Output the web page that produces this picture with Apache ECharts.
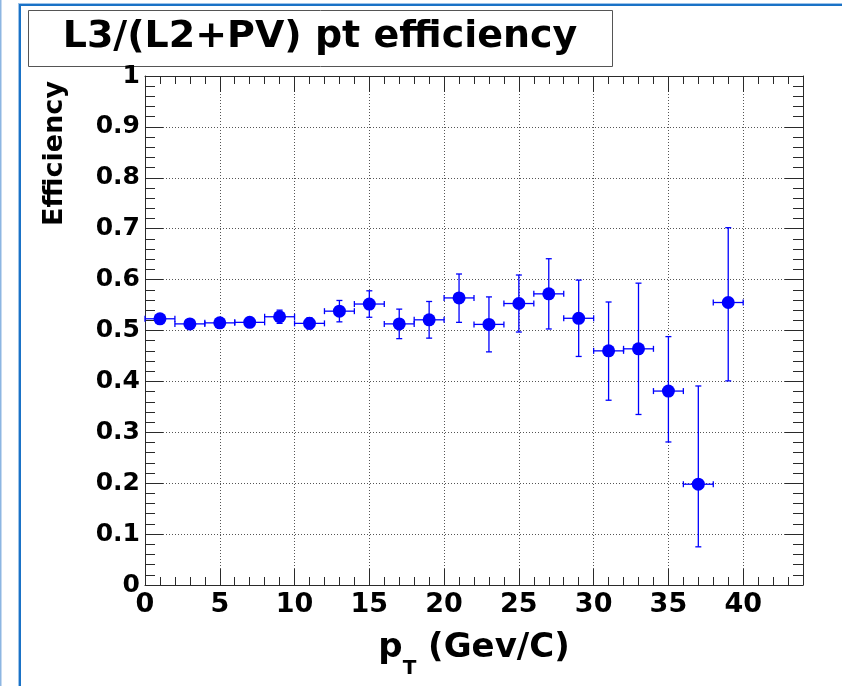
<!DOCTYPE html>
<html>
<head>
<meta charset="utf-8">
<script src="https://cdn.jsdelivr.net/npm/echarts@6/dist/echarts.min.js"></script>
<style>
  html, body { margin: 0; padding: 0; background: #fff; }
  #chart { width: 842px; height: 686px; }
</style>
</head>
<body>
<div id="chart"></div>
<script>
// Efficiency per pT bin (bins of width 2 GeV/c, 0-40)
const binCenters = [1, 3, 5, 7, 9, 11, 13, 15, 17, 19, 21, 23, 25, 27, 29, 31, 33, 35, 37, 39];
const efficiency = [0.523, 0.513, 0.515, 0.516, 0.527, 0.514, 0.538, 0.552, 0.513, 0.521,
                    0.564, 0.512, 0.553, 0.572, 0.524, 0.460, 0.464, 0.381, 0.198, 0.555];
const errDown    = [0.005, 0.005, 0.006, 0.007, 0.013, 0.011, 0.021, 0.026, 0.029, 0.036,
                    0.048, 0.054, 0.056, 0.069, 0.075, 0.097, 0.129, 0.100, 0.123, 0.154];
const errUp      = [0.005, 0.005, 0.006, 0.007, 0.013, 0.011, 0.021, 0.026, 0.029, 0.036,
                    0.047, 0.054, 0.056, 0.069, 0.075, 0.096, 0.129, 0.107, 0.193, 0.147];
const binHalfWidth = 1;

const xTickLabels = ['0', '5', '10', '15', '20', '25', '30', '35', '40'];
const yTickLabels = ['0', '0.1', '0.2', '0.3', '0.4', '0.5', '0.6', '0.7', '0.8', '0.9', '1'];
const titleText = 'L3/(L2+PV) pt efficiency';
const yTitle = 'Efficiency';

const FONT = 'DejaVu Sans';
const FRAME = '#2a2a2a';
const MARK = '#0000ff';

const errorData = binCenters.map((x, i) => [x, efficiency[i], errDown[i], errUp[i]]);
const pointData = binCenters.map((x, i) => [x, efficiency[i]]);

const gridLine = { show: true, lineStyle: { color: '#555', width: 1, type: [1, 2] } };
const noLabel = { show: false };

function xMajor(pos, withLabels) {
  return {
    type: 'value', position: pos, min: 0, max: 44, interval: 5, gridIndex: 0,
    axisLine: { show: true, onZero: false, lineStyle: { color: FRAME, width: 1 } },
    axisTick: { show: true, inside: true, length: 16, lineStyle: { color: FRAME, width: 1 } },
    minorTick: { show: false },
    splitLine: withLabels ? gridLine : { show: false },
    axisLabel: withLabels ? {
      show: true, margin: 6, color: '#000',
      fontFamily: FONT, fontWeight: 'bold', fontSize: 27,
      formatter: v => (Math.abs(v / 5 - Math.round(v / 5)) < 1e-9 ? (xTickLabels[Math.round(v / 5)] || '') : '')
    } : noLabel
  };
}
function xMinor(pos) {
  return {
    type: 'value', position: pos, min: 0, max: 44, interval: 1, gridIndex: 0,
    axisLine: { show: false, onZero: false },
    axisTick: { show: true, inside: true, length: 8, lineStyle: { color: FRAME, width: 1 } },
    splitLine: { show: false },
    axisLabel: noLabel
  };
}
function yAxisDef(pos, withLabels) {
  return {
    type: 'value', position: pos, min: 0, max: 1, interval: 0.1, gridIndex: 0,
    axisLine: { show: true, onZero: false, lineStyle: { color: FRAME, width: 1 } },
    axisTick: { show: true, inside: true, length: 18, lineStyle: { color: FRAME, width: 1 } },
    minorTick: { show: true, splitNumber: 5, length: 10, lineStyle: { color: FRAME, width: 1 } },
    splitLine: withLabels ? gridLine : { show: false },
    axisLabel: withLabels ? {
      show: true, margin: 5, color: '#000',
      fontFamily: FONT, fontWeight: 'bold', fontSize: 25,
      formatter: v => yTickLabels[Math.round(v * 10)]
    } : noLabel
  };
}

const xAxes = [xMajor('bottom', true), xMinor('bottom'), xMajor('top', false), xMinor('top')];
xAxes[0].name = '{m|p}{s|T}{m| (Gev/C)}';
xAxes[0].nameLocation = 'middle';
xAxes[0].nameGap = 34;
xAxes[0].nameMoveOverlap = false;
xAxes[0].nameTextStyle = {
  color: '#000',
  rich: {
    m: { fontFamily: FONT, fontWeight: 'bold', fontSize: 34, lineHeight: 58, color: '#000' },
    s: { fontFamily: FONT, fontWeight: 'bold', fontSize: 20, lineHeight: 20, padding: [42, 0, 0, 0], color: '#000' }
  }
};

const yAxes = [yAxisDef('left', true), yAxisDef('right', false)];
yAxes[0].name = yTitle;
yAxes[0].nameLocation = 'middle';
yAxes[0].nameRotate = 90;
yAxes[0].nameGap = 77;
yAxes[0].nameMoveOverlap = false;
yAxes[0].nameTextStyle = {
  color: '#000', fontFamily: FONT, fontWeight: 'bold', fontSize: 27,
  padding: [0, 0, 0, 354]
};

function renderErrorBar(params, api) {
  const x = api.value(0), y = api.value(1), lo = api.value(2), hi = api.value(3);
  const left = api.coord([x - binHalfWidth, y]);
  const right = api.coord([x + binHalfWidth, y]);
  const top = api.coord([x, y + hi]);
  const bottom = api.coord([x, y - lo]);
  const cap = 3;
  const style = { stroke: MARK, lineWidth: 1.3 };
  const seg = (x1, y1, x2, y2) => ({ type: 'line', shape: { x1, y1, x2, y2 }, style });
  return {
    type: 'group',
    children: [
      seg(left[0], left[1], right[0], right[1]),
      seg(left[0], left[1] - cap, left[0], left[1] + cap),
      seg(right[0], right[1] - cap, right[0], right[1] + cap),
      seg(top[0], top[1], bottom[0], bottom[1]),
      seg(top[0] - cap, top[1], top[0] + cap, top[1]),
      seg(bottom[0] - cap, bottom[1], bottom[0] + cap, bottom[1])
    ]
  };
}

const chart = echarts.init(document.getElementById('chart'), null, { renderer: 'canvas' });
chart.setOption({
  animation: false,
  backgroundColor: '#fff',
  grid: { left: 145, right: 39, top: 76, bottom: 101, containLabel: false },
  xAxis: xAxes,
  yAxis: yAxes,
  graphic: [
    // window frame edges
    { type: 'rect', shape: { x: 0, y: 0, width: 1.5, height: 686 }, style: { fill: '#8db6e2' }, silent: true },
    { type: 'rect', shape: { x: 18, y: 3, width: 824, height: 1 }, style: { fill: '#9cc3ea' }, silent: true },
    { type: 'rect', shape: { x: 18, y: 3, width: 1, height: 683 }, style: { fill: '#9cc3ea' }, silent: true },
    { type: 'rect', shape: { x: 19, y: 4, width: 823, height: 2 }, style: { fill: '#1a72c6' }, silent: true },
    { type: 'rect', shape: { x: 19, y: 4, width: 2, height: 682 }, style: { fill: '#1a72c6' }, silent: true },
    // title box
    { type: 'rect', shape: { x: 28.5, y: 10.5, width: 584, height: 56 },
      style: { fill: '#fff', stroke: '#555', lineWidth: 1 }, silent: true },
    { type: 'text', x: 320, y: 37,
      style: { text: titleText, font: 'bold 38px "DejaVu Sans"', fill: '#000',
               textAlign: 'center', textVerticalAlign: 'middle' }, silent: true }
  ],
  series: [
    {
      type: 'custom', name: 'errors', xAxisIndex: 0, yAxisIndex: 0,
      renderItem: renderErrorBar, data: errorData, z: 3, clip: false
    },
    {
      type: 'scatter', name: 'efficiency', xAxisIndex: 0, yAxisIndex: 0,
      data: pointData, symbol: 'circle', symbolSize: 13,
      itemStyle: { color: MARK, opacity: 1 }, z: 4
    }
  ]
});
</script>
</body>
</html>
